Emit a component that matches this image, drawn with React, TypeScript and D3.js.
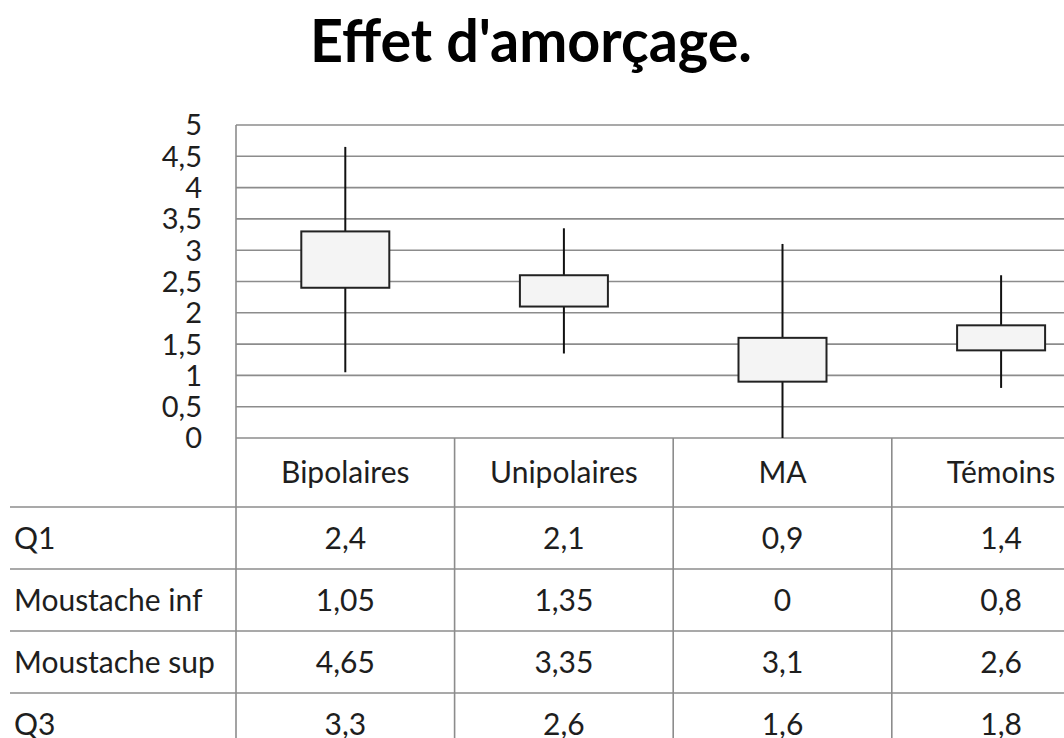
import React from "react";
import * as d3 from "d3";

const title = "Effet d'amorçage.";
const categories = ["Bipolaires", "Unipolaires", "MA", "Témoins"];
const q1 = [2.4, 2.1, 0.9, 1.4];
const whiskerLow = [1.05, 1.35, 0, 0.8];
const whiskerHigh = [4.65, 3.35, 3.1, 2.6];
const q3 = [3.3, 2.6, 1.6, 1.8];
const yTicks = [0, 0.5, 1, 1.5, 2, 2.5, 3, 3.5, 4, 4.5, 5];
const rowLabels = ["Q1", "Moustache inf", "Moustache sup", "Q3"];
const rowValues = [q1, whiskerLow, whiskerHigh, q3];

const W = 1064;
const H = 738;
const FONT = "Lato, 'Open Sans', sans-serif";
const GRID = "#8c8c8c";
const TEXT = "#1e1e1e";

const fmt = (v: number) => String(v).replace(".", ",");

export default function App() {
  React.useEffect(() => {
    document.body.style.margin = "0";
  }, []);

  const plotLeft = 236;
  const colW = 218.6;
  const y = d3.scaleLinear().domain([0, 5]).range([438, 125]);
  const x = d3
    .scaleBand<string>()
    .domain(categories)
    .range([plotLeft, plotLeft + colW * categories.length])
    .paddingInner(0)
    .paddingOuter(0);
  const boxW = 88;

  const headerTop = 438;
  const headerBottom = 507;
  const rowH = 62;
  const rowTops = rowLabels.map((_, i) => headerBottom + i * rowH);

  return (
    <svg
      width={W}
      height={H}
      style={{ position: "absolute", left: 0, top: 0, display: "block" }}
      fontFamily={FONT}
    >
      <rect width={W} height={H} fill="#ffffff" />
      <text
        x={531}
        y={62}
        textAnchor="middle"
        fontSize={60}
        fontWeight={700}
        fill="#000"
        textLength={442}
        lengthAdjust="spacingAndGlyphs"
      >
        {title}
      </text>

      {/* gridlines */}
      {yTicks.map((t) => (
        <line
          key={"g" + t}
          x1={plotLeft}
          x2={W}
          y1={y(t)}
          y2={y(t)}
          stroke={GRID}
          strokeWidth={1.6}
        />
      ))}
      <line x1={plotLeft} x2={plotLeft} y1={y(5)} y2={H} stroke={GRID} strokeWidth={1.6} />

      {/* y tick labels */}
      {yTicks.map((t) => (
        <text
          key={"t" + t}
          x={202}
          y={y(t)}
          dy="0.36em"
          textAnchor="end"
          fontSize={29}
          fill={TEXT}
        >
          {fmt(t)}
        </text>
      ))}

      {/* boxes */}
      {categories.map((c, i) => {
        const cx = (x(c) as number) + x.bandwidth() / 2;
        return (
          <g key={"b" + c}>
            <line x1={cx} x2={cx} y1={y(whiskerHigh[i])} y2={y(q3[i])} stroke="#111" strokeWidth={2} />
            <line x1={cx} x2={cx} y1={y(q1[i])} y2={y(whiskerLow[i])} stroke="#111" strokeWidth={2} />
            <rect
              x={cx - boxW / 2}
              y={y(q3[i])}
              width={boxW}
              height={y(q1[i]) - y(q3[i])}
              fill="#f4f4f4"
              stroke="#222"
              strokeWidth={2}
            />
          </g>
        );
      })}

      {/* table */}
      {categories.map((c) => (
        <line
          key={"v" + c}
          x1={(x(c) as number) + x.bandwidth()}
          x2={(x(c) as number) + x.bandwidth()}
          y1={headerTop}
          y2={H}
          stroke={GRID}
          strokeWidth={1.6}
        />
      ))}
      {rowTops.map((rt, i) => (
        <line key={"h" + i} x1={10} x2={W} y1={rt} y2={rt} stroke={GRID} strokeWidth={1.6} />
      ))}
      {categories.map((c) => (
        <text
          key={"hc" + c}
          x={(x(c) as number) + x.bandwidth() / 2}
          y={(headerTop + headerBottom) / 2}
          dy="0.36em"
          textAnchor="middle"
          fontSize={30}
          fill={TEXT}
        >
          {c}
        </text>
      ))}
      {rowLabels.map((lab, r) => (
        <g key={"r" + lab}>
          <text x={14} y={rowTops[r] + rowH / 2} dy="0.36em" fontSize={30} fill={TEXT}>
            {lab}
          </text>
          {categories.map((c, i) => (
            <text
              key={"cv" + c}
              x={(x(c) as number) + x.bandwidth() / 2}
              y={rowTops[r] + rowH / 2}
              dy="0.36em"
              textAnchor="middle"
              fontSize={30}
              fill={TEXT}
            >
              {fmt(rowValues[r][i])}
            </text>
          ))}
        </g>
      ))}
    </svg>
  );
}
